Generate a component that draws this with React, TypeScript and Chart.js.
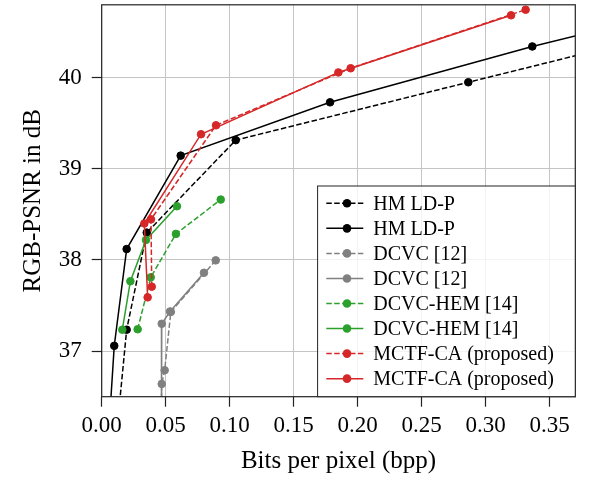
import React, { useEffect, useRef } from "react";
import { Chart, registerables } from "chart.js";

Chart.register(...registerables);

// ---- Data ----
const xTicks = [0, 0.05, 0.1, 0.15, 0.2, 0.25, 0.3, 0.35];
const yTicks = [37, 38, 39, 40];

const hmDashedX = [0.011, 0.0195, 0.0352, 0.1047, 0.2864, 0.45];
const hmDashedY = [36.0, 37.235, 38.3, 39.315, 39.95, 40.52];

const hmSolidX = [0.005, 0.0098, 0.0195, 0.0617, 0.1784, 0.3364, 0.5];
const hmSolidY = [36.0, 37.058, 38.12, 39.145, 39.73, 40.343, 40.91];

const dcvcDashedX = [0.0891, 0.054, 0.0492, 0.0469, 0.0462];
const dcvcDashedY = [37.996, 37.43, 36.79, 36.64, 36.0];

const dcvcSolidX = [0.0799, 0.0534, 0.0469, 0.0467];
const dcvcSolidY = [37.86, 37.435, 37.3, 36.0];

const hemDashedX = [0.0281, 0.0383, 0.058, 0.093];
const hemDashedY = [37.24, 37.81, 38.286, 38.663];

const hemSolidX = [0.0161, 0.0224, 0.0346, 0.0588];
const hemSolidY = [37.235, 37.767, 38.22, 38.59];

const mctfDashedX = [0.0391, 0.0385, 0.0893, 0.1945, 0.3312];
const mctfDashedY = [37.707, 38.446, 39.478, 40.104, 40.746];

const mctfSolidX = [0.0359, 0.0333, 0.0776, 0.1849, 0.3198];
const mctfSolidY = [37.59, 38.4, 39.38, 40.058, 40.685];

const seriesLabels = [
  "HM LD-P",
  "HM LD-P",
  "DCVC [12]",
  "DCVC [12]",
  "DCVC-HEM [14]",
  "DCVC-HEM [14]",
  "MCTF-CA (proposed)",
  "MCTF-CA (proposed)",
];
const seriesColors = [
  "#000000",
  "#000000",
  "#808080",
  "#808080",
  "#2ca02c",
  "#2ca02c",
  "#d62728",
  "#d62728",
];
const seriesDashed = [true, false, true, false, true, false, true, false];
const seriesX = [hmDashedX, hmSolidX, dcvcDashedX, dcvcSolidX, hemDashedX, hemSolidX, mctfDashedX, mctfSolidX];
const seriesY = [hmDashedY, hmSolidY, dcvcDashedY, dcvcSolidY, hemDashedY, hemSolidY, mctfDashedY, mctfSolidY];

const FONT = "'Liberation Serif', 'Times New Roman', serif";
const DASH = [5.5, 2.4];

const frameAndLegend = {
  id: "frameAndLegend",
  afterDatasetsDraw(chart: any) {
    const { ctx, chartArea } = chart;
    const { left, top, right, bottom } = chartArea;
    ctx.save();
    // frame
    ctx.strokeStyle = "#222";
    ctx.lineWidth = 1.2;
    ctx.setLineDash([]);
    ctx.strokeRect(left, top, right - left, bottom - top);

    // legend
    const w = 257.7;
    const h = 210.7;
    const lx = right - w;
    const ly = bottom - h;
    ctx.fillStyle = "rgba(255,255,255,0.8)";
    ctx.fillRect(lx, ly, w, h);
    ctx.strokeStyle = "#222";
    ctx.lineWidth = 1;
    ctx.strokeRect(lx, ly, w, h);

    ctx.font = `20px ${FONT}`;
    ctx.textBaseline = "middle";
    ctx.textAlign = "left";
    for (let i = 0; i < seriesLabels.length; i++) {
      const cy = ly + 17.3 + i * 25.05;
      ctx.strokeStyle = seriesColors[i];
      ctx.lineWidth = 1.5;
      ctx.setLineDash(seriesDashed[i] ? DASH : []);
      ctx.beginPath();
      ctx.moveTo(lx + 8.7, cy);
      ctx.lineTo(lx + 45.7, cy);
      ctx.stroke();
      ctx.setLineDash([]);
      ctx.fillStyle = seriesColors[i];
      ctx.beginPath();
      ctx.arc(lx + 29.4, cy, 4.3, 0, Math.PI * 2);
      ctx.fill();
      ctx.fillStyle = "#000";
      ctx.fillText(seriesLabels[i], lx + 55.7, cy + 1);
    }
    ctx.restore();
  },
};

export default function App() {
  const canvasRef = useRef<HTMLCanvasElement | null>(null);

  useEffect(() => {
    if (!canvasRef.current) return;
    const datasets = seriesLabels.map((label, i) => ({
      label,
      data: seriesX[i].map((x, j) => ({ x, y: seriesY[i][j] })),
      borderColor: seriesColors[i],
      backgroundColor: seriesColors[i],
      borderWidth: 1.5,
      borderDash: seriesDashed[i] ? DASH : [],
      pointRadius: 3.8,
      pointBorderWidth: 1,
      pointBorderColor: seriesColors[i],
      pointBackgroundColor: seriesColors[i],
      pointHoverRadius: 3.8,
      tension: 0,
      fill: false,
      showLine: true,
      order: seriesLabels.length - i,
    }));

    const chart = new Chart(canvasRef.current, {
      type: "line",
      data: { datasets },
      options: {
        responsive: false,
        animation: false,
        devicePixelRatio: 1,
        layout: { padding: { left: 0, top: 1.7, right: 15.7, bottom: 0 } },
        plugins: {
          legend: { display: false },
          tooltip: { enabled: false },
        },
        scales: {
          x: {
            type: "linear",
            min: 0,
            max: 0.37,
            afterBuildTicks: (s: any) => {
              s.ticks = xTicks.map((v) => ({ value: v }));
            },
            afterFit: (s: any) => {
              s.height = 94.3;
              s.paddingLeft = 0;
              s.paddingRight = 0;
              s.paddingTop = 0;
              s.paddingBottom = 0;
            },
            ticks: {
              callback: (v: any) => Number(v).toFixed(2),
              font: { family: FONT, size: 23 },
              color: "#000",
              padding: 5,
              maxRotation: 0,
              autoSkip: false,
            },
            grid: {
              color: "#c4c4c4",
              lineWidth: 1,
              tickLength: 10,
              tickColor: "#222",
              tickWidth: 1.2,
            },
            border: { display: false },
            title: {
              display: true,
              text: "Bits per pixel (bpp)",
              font: { family: FONT, size: 25 },
              color: "#000",
              padding: { top: 0, bottom: 15 },
            },
          },
          y: {
            type: "linear",
            min: 36.5,
            max: 40.8,
            afterBuildTicks: (s: any) => {
              s.ticks = yTicks.map((v) => ({ value: v }));
            },
            afterFit: (s: any) => {
              s.width = 101.7;
              s.paddingLeft = 0;
              s.paddingRight = 0;
              s.paddingTop = 0;
              s.paddingBottom = 0;
            },
            ticks: {
              callback: (v: any) => String(v),
              font: { family: FONT, size: 23 },
              color: "#000",
              padding: 10,
              autoSkip: false,
            },
            grid: {
              color: "#c4c4c4",
              lineWidth: 1,
              tickLength: 10,
              tickColor: "#222",
              tickWidth: 1.2,
            },
            border: { display: false },
            title: {
              display: true,
              text: "RGB-PSNR in dB",
              font: { family: FONT, size: 25 },
              color: "#000",
              padding: { top: 18.3, bottom: 0 },
            },
          },
        },
      },
      plugins: [frameAndLegend],
    } as any);

    return () => chart.destroy();
  }, []);

  return (
    <div style={{ position: "absolute", left: 0, top: 0, width: 591, height: 491, background: "#fff" }}>
      <canvas ref={canvasRef} width={591} height={491} style={{ display: "block" }} />
    </div>
  );
}
